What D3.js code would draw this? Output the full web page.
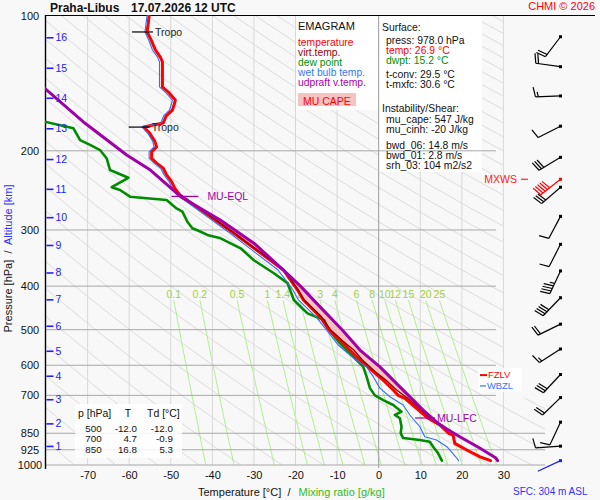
<!DOCTYPE html>
<html><head><meta charset="utf-8">
<script src="https://cdn.jsdelivr.net/npm/d3@7"></script>
<style>
body{margin:0;background:#f8f8f8}
svg{display:block;font-family:"Liberation Sans",Arial,sans-serif}
</style>
</head><body>
<svg id="c" width="600" height="500"></svg>
<script>
// ---------------- DATA ----------------
const pressureTicks = [100,200,300,400,500,600,700,850,925,1000];
const tempTicks = [-70,-60,-50,-40,-30,-20,-10,0,10,20,30];
const altKm = [1,2,3,4,5,6,7,8,9,10,11,12,13,14,15,16];
const altP  = [907,808,714,633,557,490,428,373,324,281,243,208.6,178.2,152.4,130.7,111.8];
const mixRatios = [0.1,0.2,0.5,1,1.4,2,3,4,6,8,10,12,15,20,25];

const tempP = [100,103.9,108.8,113.4,119.3,123.7,126.9,144.2,148,154.2,158.2,162.3,167.3,173.4,177.1,183,190.8,196,201,208,213,218.7,226.3,234.3,242.4,250.7,304.7,368.3,408.1,429.4,468.7,500,527,554.9,584,620,647.5,681,700,710.5,748,787,814,850,858,895,926,959,978];
const tempT = [-55.2,-55.4,-55.7,-54.7,-53.7,-52.5,-52.0,-52.0,-50.6,-48.9,-49.2,-49.6,-51.1,-51.8,-56.5,-55.0,-53.8,-53.4,-54.6,-54.6,-53.4,-51.8,-51.0,-49.8,-49.0,-47.8,-34.9,-22.9,-19.5,-18.1,-14.0,-12.0,-9.3,-6.9,-4.5,-1.3,1.1,3.5,4.7,6.3,9.1,11.9,14.7,16.8,17.9,18.3,21.2,24.4,26.9];

const virtP = [250.7,304.7,368.3,408.1,429.4,468.7,500,527,554.9,584,620,647.5,681,710.5,748,786,814,850,880,912,955,978];
const virtT = [-47.6,-34.8,-22.7,-19.3,-17.9,-13.7,-11.6,-8.9,-6.0,-3.9,-0.8,1.8,4.3,7.0,9.8,12.3,15.2,17.9,20.8,24.0,27.4,28.7];

const dewP = [170,178.2,189.3,194,199.2,208,220.7,229.6,241,244.5,253,257.4,268.6,273.2,287.6,297.4,302.7,307.7,313.1,329.6,350.3,374.5,394,429.4,444.6,460,476,500,536.5,564.4,605,636,674.5,700,717,735.5,761,774,787,822,850,871,880,887.6,910.5,942,978];
const dewT = [-83,-73.4,-71.8,-69.4,-67.0,-65.4,-64.6,-60.2,-64.2,-62.2,-59.8,-51.0,-48.6,-47.2,-46.0,-44.8,-42.8,-41.2,-38.0,-33.2,-30.0,-25.2,-21.9,-20.4,-18.75,-17.1,-13.1,-12.0,-9.3,-6.9,-3.7,-2.9,-2.1,-0.9,1.1,3.5,5.5,3.9,5.1,5.5,5.3,5.9,9.9,12.3,13.1,14.3,15.2];

const wbP = [100,108.8,113.4,119.3,123.7,126.9,144.2,148,154.2,158.2,162.3,167.3,173.4,177.1,183,190.8,196,201,208,213,218.7,226.3,234.3,242.4,250.7,304.7,368.3,408.1,429.4,468.7,500,540,584,605,636,674.5,705,735.5,774,822,865,880,910.5,965,978];
const wbT = [-55.7,-56.2,-55.3,-54.4,-53.2,-52.7,-52.7,-51.3,-49.6,-49.9,-50.3,-51.7,-52.4,-56.9,-55.5,-54.3,-54.0,-55.2,-55.2,-54.0,-52.4,-51.6,-50.4,-49.6,-48.5,-35.8,-24.2,-20.6,-19.3,-15.0,-12.6,-9.8,-5.5,-2.9,-1.3,0.3,2.7,5.9,7.5,9.9,11.1,13.9,16.4,18.8,19.2];

const parcelP = [140,145.2,173.7,204.3,220.7,253,285,321,375,401,437,500,555,605,670,754.5,814,865,918,965,978];
const parcelT = [-82,-80.3,-70.6,-60.6,-54.9,-47.6,-38.1,-30.0,-22.0,-18.7,-14.9,-8.8,-4.5,0.3,5.1,10.7,14.7,19.5,24.4,28.2,28.6];

const tropoP = [108.8,177.1];
const tropoT = [-55.7,-56.5];
const lfcP = 786, eqlP = 252.6;
const fzlvP = 631, wbzlP = 667, mxwsP = 231.4;

const windP   = [111.5,130,151,176.3,206.8,241,279.8,322.9,370,424.5,486,552,629,708,803,908,978];
const windDir = [217,278,268,243,239,229,208,207,205,224,244,237,223,226,205,266,245];
const windSpd = [20,20,15,10,30,30,10,10,45,40,20,15,30,20,10,10,3];
const mxwsDir = 232, mxwsSpd = 50;

const tableP  = [500,700,850];
const tableT  = [-12.0,4.7,16.8];
const tableTd = [-12.0,-0.9,5.3];

const legendItems = [["temperature","#ff0000"],["virt.temp.","#990000"],["dew point","#009000"],["wet bulb temp.","#3377ff"],["udpraft v.temp.","#aa00aa"]];
const surfaceInfo = [["press: 978.0 hPa","#111"],["temp: 26.9 °C","#ff0000"],["dwpt: 15.2 °C","#009000"]];
const convInfo = [["t-conv: 29.5 °C","#111"],["t-mxfc: 30.6 °C","#111"]];
const instInfo = [["mu_cape: 547 J/kg","#111"],["mu_cinh: -20 J/kg","#111"]];
const shearInfo = [["bwd_06: 14.8 m/s","#111"],["bwd_01: 2.8 m/s","#111"],["srh_03: 104 m2/s2","#111"]];

// ---------------- SETUP ----------------
const svg = d3.select("#c");
const x = d3.scaleLinear().domain([-80,40]).range([46,545]);
const y = d3.scaleLog().domain([100,1000]).range([15.5,465]);
const FONT = '"Liberation Sans",Arial,sans-serif';

svg.append("rect").attr("width",600).attr("height",500).attr("fill","#f8f8f8");

const defs = svg.append("defs");
defs.append("clipPath").attr("id","bgclip").append("path").attr("d","M45,15.5H503V398H545V465H45Z");
defs.append("clipPath").attr("id","curveclip").append("rect").attr("x",45).attr("y",15).attr("width",458).attr("height",451);

function interp(P,V,p){
  for(let i=0;i<P.length-1;i++){
    const a=P[i],b=P[i+1];
    if((p-a)*(p-b)<=0){const t=(Math.log(p)-Math.log(a))/(Math.log(b)-Math.log(a));return V[i]+t*(V[i+1]-V[i]);}
  }
  return NaN;
}
const line = d3.line().x(d=>x(d[1])).y(d=>y(d[0]));

// dry adiabats
const bg = svg.append("g").attr("clip-path","url(#bgclip)");
const pSamples = d3.range(0,91).map(i=>100*Math.pow(10,i/90));
d3.range(190,650,10).forEach(th=>{
  bg.append("path").datum(pSamples.map(p=>[p, th*Math.pow(p/1000,0.2857)-273.15]))
    .attr("d",line).attr("fill","none").attr("stroke","#d4d4d4").attr("stroke-width",0.8);
});
// mixing ratio lines
function tdFromW(w,p){const e=w*p/(622+w);const l=Math.log(e/6.112);return 243.5*l/(17.67-l);}
const mrP = d3.range(0,41).map(i=>430*Math.pow(1000/430,i/40));
mixRatios.forEach(w=>{
  bg.append("path").datum(mrP.map(p=>[p,tdFromW(w,p)])).attr("d",line)
    .attr("fill","none").attr("stroke","#a6ef7a").attr("stroke-width",0.9);
});

// vertical grid
tempTicks.filter(t=>t!==0).forEach(t=>{
  svg.append("line").attr("x1",x(t)).attr("x2",x(t)).attr("y1",15.5).attr("y2",465)
    .attr("stroke","#d8d8d8").attr("stroke-width",1);
});

// boxes (legend & info)
svg.append("rect").attr("x",296).attr("y",16).attr("width",82).attr("height",94).attr("fill","#fff").attr("opacity",0.9);
svg.append("rect").attr("x",379).attr("y",16).attr("width",103).attr("height",156).attr("fill","#fff");

// 0 C line
svg.append("line").attr("x1",x(0)).attr("x2",x(0)).attr("y1",15.5).attr("y2",468).attr("stroke","#9c9c9c").attr("stroke-width",1);

// pressure lines
pressureTicks.forEach(p=>{
  if(p===100) return;
  svg.append("line").attr("x1",45).attr("x2",p>=850?545:496).attr("y1",y(p)).attr("y2",y(p))
    .attr("stroke","#a8a8a8").attr("stroke-width",1);
});
svg.append("line").attr("x1",45).attr("x2",595).attr("y1",15.5).attr("y2",15.5).attr("stroke","#000").attr("stroke-width",1.2);
svg.append("line").attr("x1",45.5).attr("x2",45.5).attr("y1",15).attr("y2",469).attr("stroke","#000").attr("stroke-width",1.4);

// mixing ratio labels
mixRatios.forEach(w=>{
  svg.append("text").attr("x",x(tdFromW(w,430))).attr("y",y(430)-2).attr("text-anchor","middle")
    .attr("font-size","10.5px").attr("fill","#9fd040").text(w);
});

// CAPE fill
const cg = svg.append("g").attr("clip-path","url(#curveclip)");
const capeSamples = d3.range(0,101).map(i=>lfcP*Math.pow(eqlP/lfcP,i/100));
cg.append("path").datum(capeSamples)
  .attr("d",d3.area().y(p=>y(p)).x0(p=>x(interp(virtP,virtT,p))).x1(p=>x(interp(parcelP,parcelT,p))))
  .attr("fill","#f4bcbc").attr("opacity",0.9);

// curves
function curve(P,T,color,w){
  cg.append("path").datum(P.map((p,i)=>[p,T[i]])).attr("d",line).attr("fill","none")
    .attr("stroke",color).attr("stroke-width",w).attr("stroke-linejoin","round").attr("stroke-linecap","round");
}
curve(dewP,dewT,"#008c00",2.6);
curve(tempP,tempT,"#ff0000",3);
curve(wbP,wbT,"#2f6fff",1.1);
curve(virtP,virtT,"#8c0000",1.3);
curve(parcelP,parcelT,"#a000a8",3);

// tropopause markers
tropoP.forEach((p,i)=>{
  const xx=x(tropoT[i]), yy=y(p);
  svg.append("line").attr("x1",xx-15).attr("x2",xx+6).attr("y1",yy).attr("y2",yy).attr("stroke","#000").attr("stroke-width",1.2);
  svg.append("text").attr("x",xx+8).attr("y",yy+3.8).attr("font-size","10.5px").attr("fill","#222").text("Tropo");
});
// EQL / LFC
{
  const xe=x(interp(parcelP,parcelT,eqlP)), ye=y(eqlP);
  svg.append("line").attr("x1",xe-9).attr("x2",xe+18).attr("y1",ye).attr("y2",ye).attr("stroke","#a000a8").attr("stroke-width",1.2);
  svg.append("text").attr("x",xe+27).attr("y",ye+3.8).attr("font-size","10.5px").attr("fill","#a000a8").text("MU-EQL");
  const xl=x(interp(parcelP,parcelT,lfcP)), yl=y(lfcP);
  svg.append("line").attr("x1",xl-17).attr("x2",xl+3).attr("y1",yl).attr("y2",yl).attr("stroke","#a000a8").attr("stroke-width",1.2);
  svg.append("text").attr("x",xl+5).attr("y",yl+3.8).attr("font-size","10.5px").attr("fill","#a000a8").text("MU-LFC");
}
// FZLV / WBZL
svg.append("rect").attr("x",478).attr("y",368).attr("width",44).attr("height",24).attr("fill","#fff");
svg.append("line").attr("x1",480).attr("x2",487).attr("y1",y(fzlvP)).attr("y2",y(fzlvP)).attr("stroke","#ff0000").attr("stroke-width",2);
svg.append("text").attr("x",488).attr("y",y(fzlvP)+3.3).attr("font-size","9.4px").attr("fill","#ff0000").text("FZLV");
svg.append("line").attr("x1",480).attr("x2",486).attr("y1",y(wbzlP)).attr("y2",y(wbzlP)).attr("stroke","#2f6fff").attr("stroke-width",1.2);
svg.append("text").attr("x",487).attr("y",y(wbzlP)+3.3).attr("font-size","9.4px").attr("fill","#2f6fff").text("WBZL");

// ---------------- AXES ----------------
const xAxis = d3.axisBottom(x).tickValues(tempTicks).tickSize(0).tickPadding(6).tickFormat(d=>String(d));
const gx = svg.append("g").attr("transform","translate(0,465)").call(xAxis);
gx.select(".domain").remove();
gx.selectAll("text").attr("font-size","11px").attr("font-family",FONT).attr("fill","#111");

const yAxis = d3.axisLeft(y).tickValues(pressureTicks).tickSize(0).tickFormat(d=>String(d));
const gy = svg.append("g").call(yAxis);
gy.select(".domain").remove();
gy.selectAll("text").attr("x",30).attr("text-anchor","middle").attr("font-size","11px").attr("font-family",FONT).attr("fill","#111");

const aAxis = d3.axisRight(y).tickValues(altP).tickSize(7).tickPadding(2).tickFormat((d,i)=>String(altKm[i]));
const ga = svg.append("g").attr("transform","translate(46.5,0)").call(aAxis);
ga.select(".domain").remove();
ga.selectAll("line").attr("stroke","#2020ff").attr("stroke-width",1.6);
ga.selectAll("text").attr("font-size","10.5px").attr("font-family",FONT).attr("fill","#2020ff");

// axis titles
svg.append("text").attr("x",198).attr("y",496).attr("font-size","11px").style("white-space","pre")
  .call(t=>{t.append("tspan").attr("fill","#111").text("Temperature [°C]  /  ");t.append("tspan").attr("fill","#33bb22").attr("dx",2).text("Mixing ratio [g/kg]");});
svg.append("text").attr("transform","translate(11.5,258.5) rotate(-90)").attr("text-anchor","middle").attr("font-size","11px").style("white-space","pre")
  .call(t=>{t.append("tspan").attr("fill","#111").text("Pressure [hPa]  /  ");t.append("tspan").attr("fill","#3030ff").text("Altitude [km]");});

// titles
svg.append("text").attr("x",50).attr("y",11.5).attr("font-size","12px").attr("font-weight","bold").attr("fill","#111").text("Praha-Libus");
svg.append("text").attr("x",131).attr("y",11.5).attr("font-size","12px").attr("font-weight","bold").attr("fill","#111").text("17.07.2026 12 UTC");
svg.append("text").attr("x",595).attr("y",10).attr("text-anchor","end").attr("font-size","11px").attr("fill","#ff0000").text("CHMI © 2026");
svg.append("text").attr("x",513).attr("y",495).attr("font-size","10px").attr("fill","#3030ff").text("SFC: 304 m ASL");

// legend
svg.append("text").attr("x",298).attr("y",30).attr("font-size","11px").attr("fill","#111").text("EMAGRAM");
legendItems.forEach((d,i)=>{
  svg.append("text").attr("x",298).attr("y",45.5+i*10).attr("font-size","10.3px").attr("fill",d[1]).text(d[0]);
});
svg.append("rect").attr("x",298).attr("y",93).attr("width",58).attr("height",13).attr("fill","#f6c2c2");
svg.append("text").attr("x",303).attr("y",104.5).attr("font-size","10.5px").attr("fill","#ff0000").text("MU CAPE");

// info box
function infoLines(arr,y0,dy){arr.forEach((d,i)=>svg.append("text").attr("x",386).attr("y",y0+i*dy).attr("font-size","10.4px").attr("fill",d[1]).text(d[0]));}
svg.append("text").attr("x",382).attr("y",31).attr("font-size","10.4px").attr("fill","#111").text("Surface:");
infoLines(surfaceInfo,43.5,10);
infoLines(convInfo,77.5,10);
svg.append("text").attr("x",382).attr("y",111.5).attr("font-size","10.4px").attr("fill","#111").text("Instability/Shear:");
infoLines(instInfo,123,10);
infoLines(shearInfo,148.5,10);

// table
svg.append("rect").attr("x",75).attr("y",404).attr("width",107).attr("height",54).attr("fill","#fff").attr("opacity",0.85);
const tg = svg.append("g").attr("font-size","9.8px").attr("fill","#111");
tg.append("text").attr("x",78).attr("y",416.5).attr("font-size","10.5px").text("p [hPa]");
tg.append("text").attr("x",128).attr("y",416.5).attr("font-size","10.5px").attr("text-anchor","middle").text("T");
tg.append("text").attr("x",147).attr("y",416.5).attr("font-size","10.5px").text("Td [°C]");
tableP.forEach((p,i)=>{
  const yy=432+i*10.4;
  tg.append("text").attr("x",93.5).attr("y",yy).attr("text-anchor","middle").text(p);
  tg.append("text").attr("x",137).attr("y",yy).attr("text-anchor","end").text(tableT[i].toFixed(1));
  tg.append("text").attr("x",173).attr("y",yy).attr("text-anchor","end").text(tableTd[i].toFixed(1));
});

// wind barbs
const WX = 560.5;
function barb(cy,dir,spd,color){
  const g=svg.append("g").attr("stroke",color).attr("stroke-width",1.2).attr("fill","none");
  const r=dir*Math.PI/180, ux=Math.sin(r), uy=-Math.cos(r), L=25;
  const tx=WX+L*ux, ty=cy+L*uy;
  g.append("line").attr("x1",WX).attr("y1",cy).attr("x2",tx).attr("y2",ty);
  const px=-uy, py=ux, a=12*Math.PI/180;
  const bx=px*Math.cos(a)+ux*Math.sin(a), by=py*Math.cos(a)+uy*Math.sin(a);
  const n10=Math.floor(spd/10), n5=Math.floor((spd%10)/5);
  let pos=0;
  for(let i=0;i<n10;i++){
    const sx=tx-ux*pos, sy=ty-uy*pos;
    g.append("line").attr("x1",sx).attr("y1",sy).attr("x2",sx+bx*10).attr("y2",sy+by*10);
    pos+=2.8;
  }
  if(n5){
    if(pos===0) pos=2.8;
    const sx=tx-ux*pos, sy=ty-uy*pos;
    g.append("line").attr("x1",sx).attr("y1",sy).attr("x2",sx+bx*5).attr("y2",sy+by*5);
  }
  svg.append("rect").attr("x",WX-1.5).attr("y",cy-1.5).attr("width",3).attr("height",3).attr("fill",color);
}
windP.forEach((p,i)=>barb(y(p),windDir[i],windSpd[i], i===windP.length-1?"#1a1aff":"#000"));
barb(y(mxwsP),mxwsDir,mxwsSpd,"#ff0000");
svg.append("text").attr("x",517).attr("y",y(mxwsP)+3.8).attr("text-anchor","end").attr("font-size","10.5px").attr("fill","#ff2020").text("MXWS");
svg.append("line").attr("x1",521).attr("x2",528).attr("y1",y(mxwsP)).attr("y2",y(mxwsP)).attr("stroke","#ff2020").attr("stroke-width",1.2);
</script>
</body></html>
